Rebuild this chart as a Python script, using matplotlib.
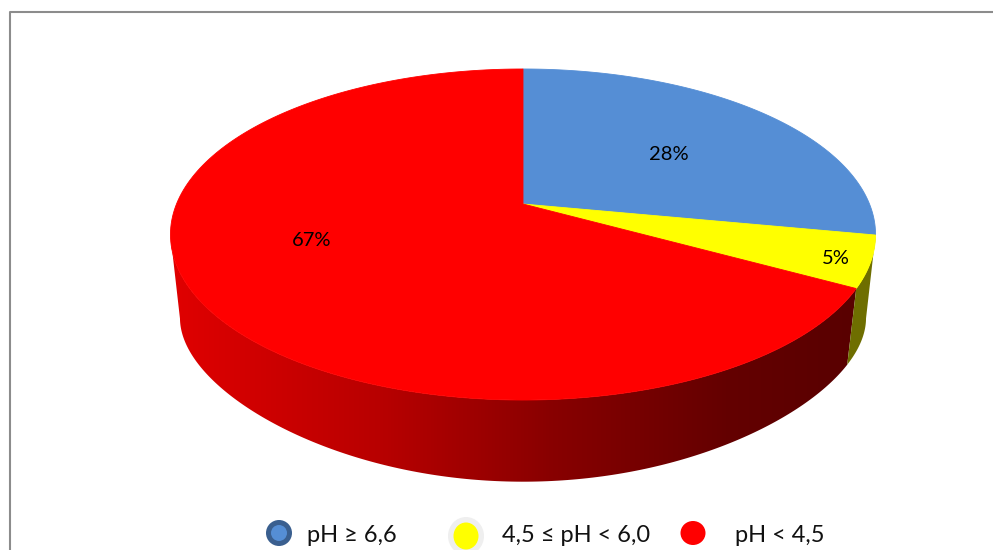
import matplotlib
matplotlib.use('Agg')
import matplotlib.pyplot as plt
import numpy as np
from matplotlib.colors import LinearSegmentedColormap
from matplotlib.patches import Ellipse, Polygon

categories = ['pH ≥ 6,6', '4,5 ≤ pH < 6,0', 'pH < 4,5']
values = [28, 5, 67]
top_colors = ['#558ED5', '#FFFF00', '#FF0000']

label_pos = [(669, 155), (836, 259), (312, 241)]
legend_marker_x = [279, 466, 693]
legend_text_x = [307, 502, 735]

plt.rcParams['font.family'] = ['Lato', 'DejaVu Sans']

# pie centre and perspective of the disc, in pixels
CX, CY = 523, 204
A, B, K = 346.5, 159.9, 0.1843
# lower rim of the disc
CY_LOW, SX_LOW, B_LOW, K_LOW = 294, 0.973, 122, 0.35


def rim(theta, low=False):
    # theta runs clockwise from 12 o'clock
    w = 1 + K * np.cos(theta)
    x = A * np.sin(theta) / w
    if low:
        y = B_LOW * np.cos(theta) / (1 + K_LOW * np.cos(theta))
        return CX + SX_LOW * x, CY_LOW - y
    return CX + x, CY - B * np.cos(theta) / w


def arc(t0, t1, low=False, n=200):
    return rim(np.linspace(t0, t1, n), low)


fig = plt.figure(figsize=(9.93, 5.5), dpi=100)
ax = fig.add_axes([0, 0, 1, 1])

edges = 2 * np.pi * np.cumsum([0] + values) / sum(values)

# side wall of the red slice, dark towards the right
wall_cmap = LinearSegmentedColormap.from_list(
    'wall', [(0, '#E00000'), (0.3, '#B80000'), (0.55, '#880000'), (0.8, '#640000'), (1, '#580000')])
left = 3 * np.pi / 2 - 0.19
xa, ya = arc(edges[2], left, low=True)
xb, yb = arc(edges[2], left)
wall = Polygon(np.c_[np.r_[xa, xb[::-1]], np.r_[ya, yb[::-1]]], closed=True, fc='none', ec='none')
ax.add_patch(wall)
im = ax.imshow(np.linspace(0, 1, 256)[None, :], extent=(171, 866, 482, 200), cmap=wall_cmap,
               aspect='auto', zorder=1)
im.set_clip_path(wall)

# side wall of the yellow slice
xa, ya = arc(edges[1], edges[2], low=True)
xb, yb = arc(edges[1], edges[2])
ax.fill(np.r_[xa, xb[::-1]], np.r_[ya, yb[::-1]], color='#6E6E00', lw=0, zorder=2)

# top faces
for i, c in enumerate(top_colors):
    x, y = arc(edges[i], edges[i + 1])
    ax.fill(np.r_[CX, x], np.r_[CY, y], color=c, lw=0.6, zorder=3)

for v, (x, y) in zip(values, label_pos):
    ax.text(x, y, f'{v}%', ha='center', va='center', fontsize=14.5, color='black', zorder=5)

# legend
ax.add_patch(Ellipse((legend_marker_x[0], 533), 26, 26, fc='#3A5F8F', ec='none', zorder=4))
ax.add_patch(Ellipse((legend_marker_x[0], 533), 16, 16, fc=top_colors[0], ec='none', zorder=5))
ax.add_patch(Ellipse((legend_marker_x[1], 536), 36, 38, fc='#EFEFEF', ec='none', zorder=4))
ax.add_patch(Ellipse((legend_marker_x[1], 536), 25, 27, fc=top_colors[1], ec='none', zorder=5))
ax.add_patch(Ellipse((legend_marker_x[2], 533), 25, 24, fc=top_colors[2], ec='none', zorder=5))
for name, x in zip(categories, legend_text_x):
    ax.text(x, 535, name, ha='left', va='center', fontsize=17, color='#111111', zorder=5)

# chart frame, runs off the right and bottom
ax.plot([10, 10, 993], [550, 12, 12], color='#8C8C8C', lw=1.5, zorder=6)

ax.set_xlim(0, 993)
ax.set_ylim(550, 0)
ax.axis('off')
fig.savefig('out.png', dpi=100)
